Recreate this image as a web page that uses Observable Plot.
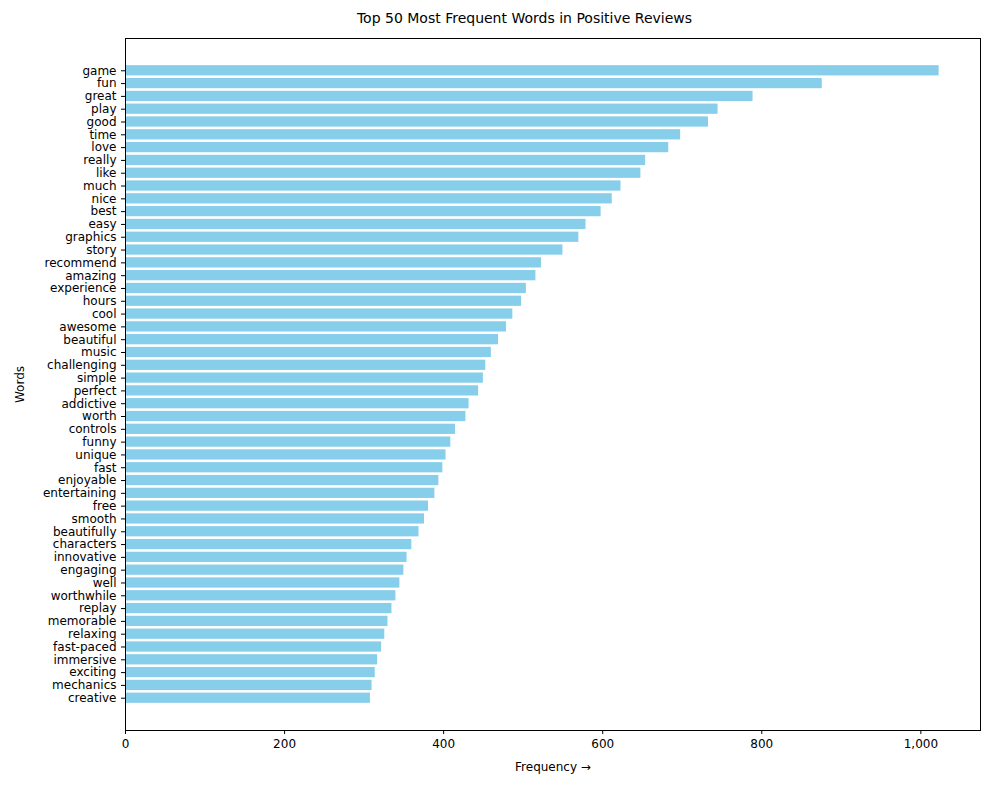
<!DOCTYPE html>
<html>
<head>
<meta charset="utf-8">
<script src="https://cdn.jsdelivr.net/npm/d3@7"></script>
<script src="https://cdn.jsdelivr.net/npm/@observablehq/plot@0.6"></script>
<style>
  body { margin: 0; background: #fff; font-family: "DejaVu Sans", sans-serif; }
  #title { width: 989px; height: 30px; line-height: 36px; text-align: center; font-size: 14px; padding-left: 60px; box-sizing: border-box; }
</style>
</head>
<body>
<div id="title">Top 50 Most Frequent Words in Positive Reviews</div>
<div id="chart"></div>
<script>
const words = ["game","fun","great","play","good","time","love","really","like","much","nice","best","easy","graphics","story","recommend","amazing","experience","hours","cool","awesome","beautiful","music","challenging","simple","perfect","addictive","worth","controls","funny","unique","fast","enjoyable","entertaining","free","smooth","beautifully","characters","innovative","engaging","well","worthwhile","replay","memorable","relaxing","fast-paced","immersive","exciting","mechanics","creative"]
const counts = [1023,876,789,745,733,698,683,654,648,623,612,598,579,570,550,523,516,504,498,487,479,469,460,453,450,444,432,428,415,409,403,399,394,389,381,376,369,360,354,350,345,340,335,330,326,322,317,314,310,308]
const data = words.map((w, i) => ({word: w, count: counts[i]}))

const chart = Plot.plot({
  width: 989,
  height: 760,
  marginLeft: 125,
  marginRight: 9,
  marginTop: 8,
  marginBottom: 60,
  style: {fontFamily: "DejaVu Sans", fontSize: "12px"},
  x: {domain: [0, 1075], ticks: [0,200,400,600,800,1000], label: "Frequency", labelAnchor: "center", labelOffset: 40, tickSize: 4},
  y: {domain: words, label: "Words", labelAnchor: "center", labelOffset: 110, padding: 0.2, insetTop: 24.6, insetBottom: 24.6, tickSize: 4},
  marks: [
    Plot.barX(data, {x: "count", y: "word", fill: "#87ceeb"}),
    Plot.frame({stroke: "#000"})
  ]
})
d3.select("#chart").append(() => chart)
</script>
</body>
</html>
